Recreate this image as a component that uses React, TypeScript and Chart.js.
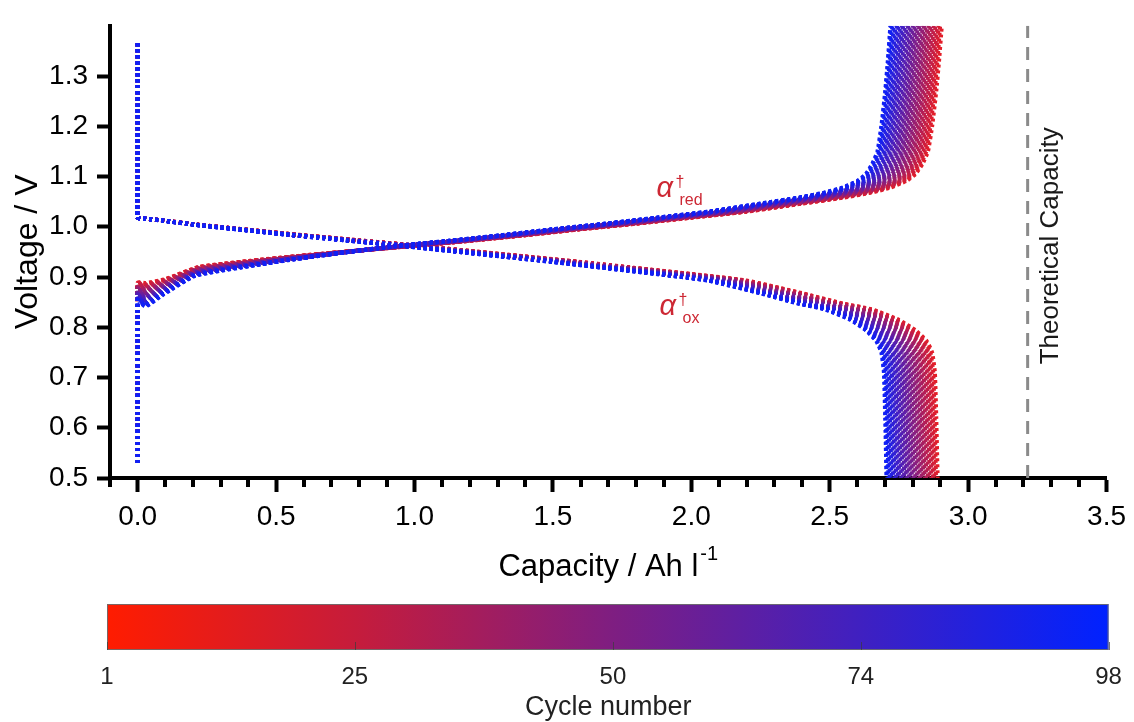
import React, { useEffect, useRef } from "react";
import { Chart, registerables } from "chart.js";

Chart.register(...registerables);

const FONT = "'Liberation Sans', Arial, Helvetica, sans-serif";

// Cycles drawn (every third cycle plus the last one)
const CYCLES = [1, 4, 7, 10, 13, 16, 19, 22, 25, 28, 31, 34, 37, 40, 43, 46, 49, 52, 55, 58, 61, 64, 67, 70, 73, 76, 79, 82, 85, 88, 91, 94, 97, 98];
// Discharge capacity reached by each drawn cycle (Ah/l)
const CYCLE_CAPACITY = [2.890, 2.884, 2.878, 2.873, 2.867, 2.861, 2.855, 2.849, 2.843, 2.838, 2.832, 2.826, 2.821, 2.815, 2.809, 2.803, 2.797, 2.792, 2.786, 2.780, 2.775, 2.769, 2.763, 2.757, 2.751, 2.746, 2.740, 2.734, 2.729, 2.723, 2.717, 2.712, 2.707, 2.705];
// Lower starting voltage of the charge curve in later cycles (V)
const CHARGE_EARLY_DROP = [0.000, 0.001, 0.002, 0.003, 0.004, 0.005, 0.007, 0.008, 0.009, 0.010, 0.011, 0.012, 0.013, 0.014, 0.015, 0.016, 0.018, 0.019, 0.020, 0.021, 0.022, 0.023, 0.024, 0.025, 0.026, 0.027, 0.029, 0.030, 0.031, 0.032, 0.033, 0.034, 0.035, 0.036];

// Charge curve of cycle 1: capacity (Ah/l) and voltage (V)
const CHARGE_Q = [0, 0, 0, 0, 0, 0, 0.03, 0.1, 0.22, 0.4, 0.58, 0.8, 1.0, 1.2, 1.4, 1.6, 1.8, 2.0, 2.2, 2.4, 2.55, 2.65, 2.72, 2.78, 2.81, 2.835, 2.855, 2.87, 2.885, 2.895, 2.905];
const CHARGE_V = [0.53, 0.62, 0.70, 0.78, 0.83, 0.889, 0.888, 0.896, 0.920, 0.932, 0.942, 0.953, 0.962, 0.972, 0.983, 0.995, 1.006, 1.018, 1.030, 1.046, 1.058, 1.068, 1.078, 1.092, 1.105, 1.125, 1.15, 1.20, 1.27, 1.33, 1.40];
// How strongly the early drop applies along the charge curve
const CHARGE_DROP_WEIGHT = [0, 0, 0, 0, 0, 1, 1.3, 0.85, 0.5, 0.36, 0.24, 0.11, 0, 0, 0, 0, 0, 0, 0, 0, 0, 0, 0, 0, 0, 0, 0, 0, 0, 0, 0];

// Discharge curve of cycle 1
const DISCHARGE_Q = [0, 0, 0, 0, 0, 0, 0.03, 0.1, 0.22, 0.4, 0.58, 0.8, 1.0, 1.2, 1.4, 1.6, 1.8, 2.0, 2.2, 2.4, 2.55, 2.65, 2.75, 2.81, 2.85, 2.87, 2.88, 2.885, 2.89];
const DISCHARGE_V = [1.365, 1.30, 1.22, 1.14, 1.07, 1.018, 1.016, 1.012, 1.004, 0.994, 0.984, 0.973, 0.963, 0.952, 0.941, 0.930, 0.918, 0.906, 0.893, 0.868, 0.847, 0.836, 0.815, 0.794, 0.773, 0.750, 0.71, 0.62, 0.50];

const THEORETICAL_CAPACITY = 3.215;

const X_MAJOR_TICKS = [0, 0.5, 1.0, 1.5, 2.0, 2.5, 3.0, 3.5];
const X_MINOR_STEP = 0.1;
const Y_TICKS = [0.5, 0.6, 0.7, 0.8, 0.9, 1.0, 1.1, 1.2, 1.3];
const COLORBAR_TICKS = [1, 25, 50, 74, 98];
const CYCLE_MIN = 1;
const CYCLE_MAX = 98;

function curveColor(t: number): string {
  const r = Math.round(228 * (1 - t) + 16 * t);
  const g = Math.round(30 * (1 - t) + 32 * t);
  const b = Math.round(40 * (1 - t) + 245 * t);
  return `rgb(${r},${g},${b})`;
}

const decorPlugin = {
  id: "decor",
  afterDatasetsDraw(chart: any) {
    const ctx = chart.ctx;
    const xs = chart.scales.x;
    const ys = chart.scales.y;
    ctx.save();
    const drawAlpha = (q: number, v: number, sub: string) => {
      const px = xs.getPixelForValue(q);
      const py = ys.getPixelForValue(v);
      ctx.fillStyle = "rgb(205,40,52)";
      ctx.textBaseline = "alphabetic";
      ctx.textAlign = "left";
      ctx.font = `italic 29px ${FONT}`;
      ctx.fillText("\u03b1", px, py);
      ctx.font = `16px ${FONT}`;
      ctx.fillText("\u2020", px + 19, py - 10);
      ctx.fillText(sub, px + 23, py + 8);
    };
    drawAlpha(1.874, 1.059, "red");
    drawAlpha(1.885, 0.825, "ox");

    ctx.save();
    ctx.translate(xs.getPixelForValue(3.298), ys.getPixelForValue(0.962));
    ctx.rotate(-Math.PI / 2);
    ctx.fillStyle = "#1a1a1a";
    ctx.font = `26px ${FONT}`;
    ctx.textAlign = "center";
    ctx.textBaseline = "middle";
    ctx.fillText("Theoretical Capacity", 0, 0);
    ctx.restore();
    ctx.restore();
  },
  afterDraw(chart: any) {
    const ctx = chart.ctx;
    const xs = chart.scales.x;
    const area = chart.chartArea;
    ctx.save();
    ctx.strokeStyle = "#000";
    ctx.lineWidth = 4;
    const nMinor = Math.round((xs.max - xs.min) / X_MINOR_STEP);
    for (let k = 0; k <= nMinor; k++) {
      const v = xs.min + k * X_MINOR_STEP;
      const isMajor = X_MAJOR_TICKS.some((m) => Math.abs(m - v) < 1e-6);
      if (isMajor) continue;
      const px = Math.round(xs.getPixelForValue(v));
      ctx.beginPath();
      ctx.moveTo(px, area.bottom);
      ctx.lineTo(px, area.bottom + 9);
      ctx.stroke();
    }

    const cx = (area.left + area.right) / 2;
    ctx.fillStyle = "#000";
    ctx.textBaseline = "alphabetic";
    ctx.textAlign = "left";
    ctx.font = `31px ${FONT}`;
    const main = "Capacity / Ah l";
    const w1 = ctx.measureText(main).width;
    ctx.font = `20px ${FONT}`;
    const sup = "-1";
    const w2 = ctx.measureText(sup).width;
    const x0 = cx - (w1 + w2 + 2) / 2;
    ctx.font = `31px ${FONT}`;
    ctx.fillText(main, x0, 576);
    ctx.font = `20px ${FONT}`;
    ctx.fillText(sup, x0 + w1 + 2, 560);

    const cbTop = 604;
    const cbH = 46;
    const L = area.left - 3;
    const R = area.right + 2;
    const grad = ctx.createLinearGradient(L, 0, R, 0);
    grad.addColorStop(0, "rgb(255,28,0)");
    grad.addColorStop(0.25, "rgb(197,28,60)");
    grad.addColorStop(0.5, "rgb(128,30,128)");
    grad.addColorStop(0.75, "rgb(64,32,192)");
    grad.addColorStop(1, "rgb(0,34,255)");
    ctx.fillStyle = grad;
    ctx.fillRect(L, cbTop, R - L, cbH);
    ctx.strokeStyle = "rgba(110,110,110,0.9)";
    ctx.lineWidth = 1;
    ctx.strokeRect(L + 0.5, cbTop + 0.5, R - L - 1, cbH - 1);
    const cbX = (c: number) => L + ((c - CYCLE_MIN) / (CYCLE_MAX - CYCLE_MIN)) * (R - L);
    ctx.strokeStyle = "rgba(60,60,60,0.7)";
    COLORBAR_TICKS.forEach((c) => {
      const px = Math.round(cbX(c)) + 0.5;
      ctx.beginPath();
      ctx.moveTo(px, cbTop + cbH);
      ctx.lineTo(px, cbTop + cbH - 8);
      ctx.stroke();
    });
    ctx.fillStyle = "#222";
    ctx.font = `24px ${FONT}`;
    ctx.textAlign = "center";
    ctx.textBaseline = "middle";
    COLORBAR_TICKS.forEach((c) => {
      ctx.fillText(String(c), cbX(c), 677);
    });
    ctx.font = `27px ${FONT}`;
    ctx.fillText("Cycle number", cx, 708);
    ctx.restore();
  },
};

export default function App() {
  const ref = useRef<HTMLCanvasElement>(null);
  useEffect(() => {
    const canvas = ref.current;
    if (!canvas) return;
    const datasets: any[] = [];
    const n = CYCLES.length;
    CYCLES.forEach((cyc, k) => {
      const s = CYCLE_CAPACITY[k] / CYCLE_CAPACITY[0];
      const col = curveColor((cyc - CYCLE_MIN) / (CYCLE_MAX - CYCLE_MIN));
      const common = {
        borderColor: col,
        backgroundColor: col,
        borderWidth: 4,
        borderDash: [3, 3],
        pointRadius: 0,
        tension: 0.15,
        fill: false,
        order: n - k,
      };
      datasets.push({
        ...common,
        data: CHARGE_Q.map((q, i) => ({ x: q * s, y: CHARGE_V[i] - CHARGE_EARLY_DROP[k] * CHARGE_DROP_WEIGHT[i] })),
      });
      datasets.push({
        ...common,
        data: DISCHARGE_Q.map((q, i) => ({ x: q * s, y: DISCHARGE_V[i] })),
      });
    });
    datasets.push({
      data: [
        { x: THEORETICAL_CAPACITY, y: 0.5 },
        { x: THEORETICAL_CAPACITY, y: 1.4 },
      ],
      borderColor: "rgb(138,138,138)",
      borderWidth: 3,
      borderDash: [13, 9],
      pointRadius: 0,
      order: n + 10,
    });

    const chart = new Chart(canvas, {
      type: "line",
      data: { datasets },
      options: {
        responsive: false,
        animation: false,
        devicePixelRatio: 1,
        layout: { padding: { left: 0, top: 16, right: 23, bottom: 184 } },
        plugins: { legend: { display: false }, tooltip: { enabled: false } },
        scales: {
          x: {
            type: "linear",
            min: -0.1,
            max: 3.5,
            afterBuildTicks: (sc: any) => {
              sc.ticks = X_MAJOR_TICKS.map((v) => ({ value: v }));
            },
            afterFit: (sc: any) => {
              sc.height = 60;
            },
            ticks: {
              callback: (v: any) => Number(v).toFixed(1),
              font: { size: 28, family: FONT },
              color: "#000",
              padding: 8,
              maxRotation: 0,
              autoSkip: false,
            },
            grid: { display: true, drawOnChartArea: false, drawTicks: true, tickLength: 14, tickWidth: 4, tickColor: "#000" },
            border: { display: true, width: 4, color: "#000" },
          },
          y: {
            type: "linear",
            min: 0.5,
            max: 1.4,
            afterBuildTicks: (sc: any) => {
              sc.ticks = Y_TICKS.map((v) => ({ value: v }));
            },
            afterFit: (sc: any) => {
              sc.width = 110;
            },
            ticks: {
              callback: (v: any) => Number(v).toFixed(1),
              font: { size: 28, family: FONT },
              color: "#000",
              padding: 9,
              autoSkip: false,
            },
            grid: { display: true, drawOnChartArea: false, drawTicks: true, tickLength: 13, tickWidth: 4, tickColor: "#000" },
            border: { display: true, width: 4, color: "#000" },
            title: {
              display: true,
              text: "Voltage / V",
              font: { size: 32, family: FONT },
              color: "#000",
              padding: { top: 9, bottom: 0 },
            },
          },
        },
      },
      plugins: [decorPlugin],
    } as any);
    return () => chart.destroy();
  }, []);
  return (
    <div style={{ position: "fixed", left: 0, top: 0, width: 1134, height: 722, background: "#fff" }}>
      <canvas ref={ref} width={1134} height={722} style={{ display: "block" }} />
    </div>
  );
}
